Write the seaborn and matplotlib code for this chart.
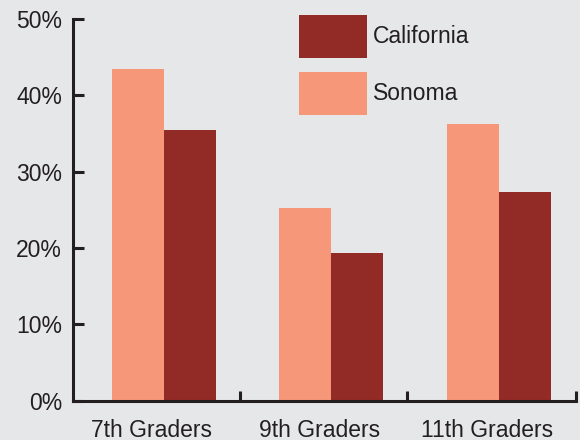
import pandas as pd
import matplotlib
matplotlib.use("Agg")
import matplotlib.pyplot as plt
import seaborn as sns

# dane (procent uczniów)
grades = ["7th Graders", "9th Graders", "11th Graders"]
sonoma = [43.4, 25.3, 36.3]
california = [35.4, 19.3, 27.4]
y_ticks = [0, 10, 20, 30, 40, 50]

bg = "#e6e7e9"
ink = "#231f20"
colors = {"Sonoma": "#f6977a", "California": "#922a25"}

df = pd.DataFrame({
    "grade": grades * 2,
    "region": ["Sonoma"] * 3 + ["California"] * 3,
    "value": sonoma + california,
})

sns.set_theme(style="white")
plt.rcParams["font.family"] = ["Liberation Sans", "DejaVu Sans"]

fig = plt.figure(figsize=(5.8, 4.4), dpi=100, facecolor=bg)
ax = fig.add_axes([0.126, 0.089, 0.867, 0.868])
ax.set_facecolor(bg)

sns.barplot(data=df, x="grade", y="value", hue="region", order=grades,
            hue_order=["Sonoma", "California"], palette=colors,
            width=0.62, saturation=1, linewidth=0, ax=ax)

# słupki lekko przesunięte w prawo względem podpisów
ax.set_xlim(-0.54, 2.46)
ax.set_ylim(0, 50)
ax.set_yticks(y_ticks)
ax.set_yticklabels([f"{t}%" for t in y_ticks])
ax.set_xticks([i - 0.07 for i in range(3)])
ax.set_xticklabels(grades)
ax.set_xticks([0.456, 1.45, 2.46], minor=True)
ax.set_xlabel("")
ax.set_ylabel("")

for s in ["top", "right"]:
    ax.spines[s].set_visible(False)
for s in ["left", "bottom"]:
    ax.spines[s].set_color(ink)
    ax.spines[s].set_linewidth(2.2)

ax.tick_params(axis="y", direction="in", length=8, width=2.2, color=ink,
               labelsize=16.5, labelcolor=ink, pad=8, left=True)
ax.tick_params(axis="x", which="major", length=0, labelsize=16.5,
               labelcolor=ink, pad=13)
ax.tick_params(axis="x", which="minor", direction="in", length=7,
               width=2.2, color=ink, bottom=True)

# legenda: California na górze
handles, labels = ax.get_legend_handles_labels()
order = [labels.index("California"), labels.index("Sonoma")]
ax.legend([handles[i] for i in order], [labels[i] for i in order],
          loc="upper left", bbox_to_anchor=(0.5155, 0.966),
          bbox_transform=fig.transFigure, frameon=False, fontsize=16.5,
          handlelength=2.95, handleheight=2.51, labelspacing=0.61,
          handletextpad=0.26, borderpad=0, borderaxespad=0,
          labelcolor=ink)

fig.savefig("out.png", dpi=100, facecolor=bg)
